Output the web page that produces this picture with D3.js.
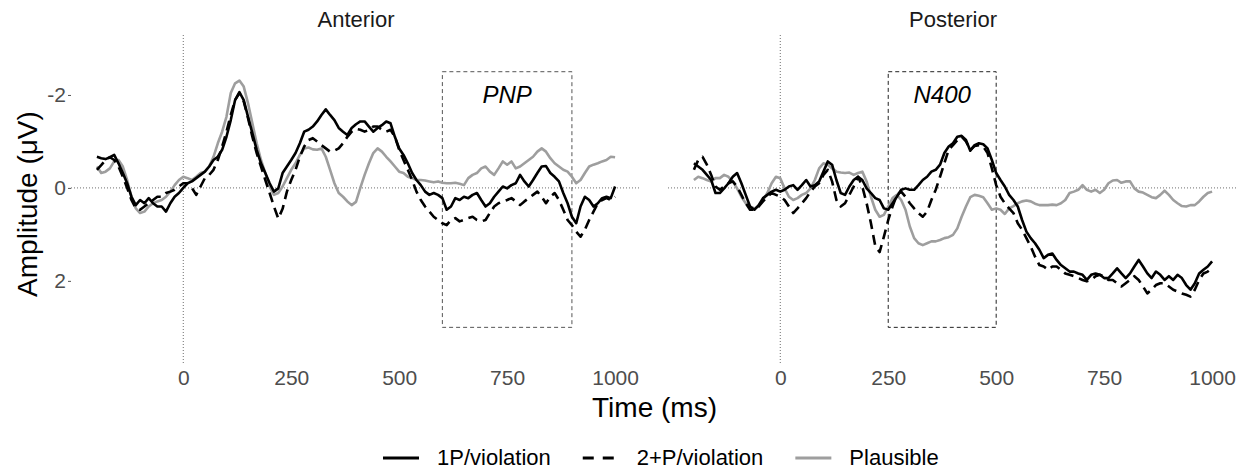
<!DOCTYPE html>
<html>
<head>
<meta charset="utf-8">
<script src="https://cdn.jsdelivr.net/npm/d3@7"></script>
<style>
  body { margin: 0; background: #fff; }
  text { font-family: "Liberation Sans", Arial, sans-serif; }
</style>
</head>
<body>
<script>
var svgWidth = 1251;
var svgHeight = 471;

// time axis of the ERP, 10 ms steps
var times = d3.range(-200, 1001, 10);

var panels = ["Anterior", "Posterior"];
var conditions = ["1P/violation", "2+P/violation", "Plausible"];

// amplitudes in microvolts (negative is drawn up)
var anterior1P = [
  -0.67, -0.64, -0.62, -0.66, -0.71, -0.53, -0.32, -0.10, 0.19, 0.37,
  0.26, 0.33, 0.22, 0.33, 0.40, 0.40, 0.51, 0.33, 0.19, 0.11,
  0.00, -0.10, -0.14, -0.21, -0.28, -0.35, -0.46, -0.60, -0.67, -0.82,
  -1.10, -1.46, -1.89, -2.06, -1.89, -1.53, -1.18, -0.82, -0.53, -0.32,
  -0.10, 0.08, 0.01, -0.32, -0.46, -0.60, -0.75, -0.96, -1.21, -1.25,
  -1.32, -1.43, -1.57, -1.69, -1.57, -1.46, -1.29, -1.21, -1.14, -1.29,
  -1.37, -1.43, -1.43, -1.32, -1.21, -1.29, -1.35, -1.43, -1.39, -1.10,
  -0.85, -0.71, -0.53, -0.32, -0.17, -0.06, 0.08, 0.15, 0.11, 0.15,
  0.22, 0.47, 0.40, 0.22, 0.26, 0.19, 0.22, 0.15, 0.11, 0.26,
  0.40, 0.33, 0.19, 0.08, -0.03, 0.01, -0.06, -0.10, -0.28, -0.14,
  -0.03, -0.17, -0.32, -0.46, -0.47, -0.32, -0.24, -0.14, 0.11, 0.33,
  0.62, 0.76, 0.40, 0.19, 0.26, 0.40, 0.33, 0.22, 0.19, 0.22,
  -0.03
];
var anterior2P = [
  -0.39, -0.49, -0.60, -0.66, -0.60, -0.46, -0.24, 0.00, 0.26, 0.44,
  0.47, 0.40, 0.33, 0.26, 0.19, 0.19, 0.11, 0.08, 0.04, -0.03,
  -0.10, -0.10, 0.00, 0.15, -0.03, -0.21, -0.28, -0.39, -0.60, -0.89,
  -1.21, -1.57, -1.89, -2.04, -1.86, -1.50, -1.10, -0.75, -0.46, -0.17,
  0.11, 0.40, 0.66, 0.45, 0.08, -0.17, -0.39, -0.67, -0.89, -1.03,
  -1.07, -1.00, -0.92, -0.85, -0.78, -0.80, -0.85, -0.96, -1.10, -1.21,
  -1.27, -1.25, -1.21, -1.25, -1.32, -1.32, -1.25, -1.21, -1.25, -1.10,
  -0.82, -0.60, -0.39, -0.17, 0.08, 0.26, 0.40, 0.51, 0.62, 0.69,
  0.76, 0.80, 0.69, 0.65, 0.72, 0.69, 0.65, 0.62, 0.69, 0.72,
  0.69, 0.54, 0.40, 0.33, 0.29, 0.26, 0.22, 0.29, 0.37, 0.29,
  0.22, 0.15, 0.08, 0.19, 0.33, 0.19, 0.11, 0.26, 0.47, 0.69,
  0.80, 0.94, 1.05, 0.90, 0.69, 0.51, 0.33, 0.26, 0.22, 0.26,
  0.19
];
var anteriorPlaus = [
  -0.46, -0.32, -0.35, -0.42, -0.57, -0.60, -0.46, -0.17, 0.19, 0.44,
  0.54, 0.51, 0.40, 0.33, 0.29, 0.26, 0.19, 0.08, -0.06, -0.17,
  -0.24, -0.21, -0.17, -0.24, -0.32, -0.35, -0.46, -0.67, -0.96, -1.21,
  -1.53, -2.04, -2.25, -2.31, -2.18, -1.82, -1.39, -0.96, -0.60, -0.32,
  -0.03, 0.15, 0.11, -0.03, -0.21, -0.39, -0.53, -0.71, -0.85, -0.87,
  -0.83, -0.82, -0.85, -0.67, -0.39, -0.10, 0.11, 0.19, 0.29, 0.37,
  0.30, 0.00, -0.28, -0.53, -0.75, -0.85, -0.78, -0.67, -0.57, -0.46,
  -0.35, -0.32, -0.24, -0.21, -0.17, -0.17, -0.16, -0.14, -0.12, -0.14,
  -0.11, -0.10, -0.10, -0.11, -0.09, -0.06, -0.21, -0.28, -0.32, -0.42,
  -0.46, -0.35, -0.28, -0.42, -0.57, -0.50, -0.57, -0.42, -0.46, -0.53,
  -0.60, -0.67, -0.78, -0.85, -0.78, -0.64, -0.53, -0.46, -0.39, -0.35,
  -0.24, -0.10, -0.17, -0.32, -0.46, -0.50, -0.53, -0.57, -0.60, -0.67,
  -0.66
];
var posterior1P = [
  -0.53, -0.46, -0.39, -0.28, -0.17, 0.11, 0.11, 0.01, -0.10, -0.24,
  -0.32, -0.10, 0.15, 0.40, 0.47, 0.37, 0.22, 0.15, 0.08, 0.04,
  0.08, 0.04, -0.03, -0.06, 0.04, -0.06, -0.17, -0.03, -0.06, -0.14,
  -0.35, -0.57, -0.50, -0.17, 0.11, 0.15, -0.03, -0.17, -0.24, -0.17,
  0.01, 0.11, 0.22, 0.26, 0.44, 0.47, 0.33, 0.19, 0.04, 0.01,
  0.04, 0.04, -0.06, -0.17, -0.24, -0.35, -0.39, -0.50, -0.75, -0.89,
  -0.96, -1.10, -1.12, -1.03, -0.80, -0.92, -0.96, -0.94, -0.85, -0.60,
  -0.32, -0.17, -0.03, 0.15, 0.26, 0.40, 0.69, 0.94, 1.08, 1.19,
  1.33, 1.51, 1.44, 1.41, 1.55, 1.66, 1.73, 1.80, 1.80, 1.84,
  1.87, 1.98, 1.87, 1.84, 1.87, 1.94, 1.94, 1.84, 1.73, 1.84,
  1.94, 1.84, 1.69, 1.55, 1.69, 1.84, 1.94, 1.80, 1.87, 1.98,
  1.90, 1.98, 1.87, 1.94, 2.09, 2.19, 2.05, 1.84, 1.76, 1.69,
  1.58
];
var posterior2P = [
  -0.39, -0.60, -0.67, -0.50, -0.28, -0.03, 0.04, -0.03, -0.10, -0.14,
  -0.03, 0.15, 0.33, 0.47, 0.47, 0.40, 0.29, 0.19, 0.11, 0.15,
  0.19, 0.26, 0.40, 0.54, 0.44, 0.33, 0.22, 0.08, -0.03, -0.10,
  -0.28, -0.39, -0.14, 0.26, 0.40, 0.33, 0.15, -0.03, -0.24, -0.03,
  0.33, 0.76, 1.25, 1.38, 1.05, 0.69, 0.40, 0.15, 0.08, 0.19,
  0.33, 0.44, 0.54, 0.62, 0.51, 0.26, 0.04, -0.24, -0.53, -0.82,
  -0.92, -1.03, -1.10, -1.00, -0.82, -0.90, -0.92, -0.89, -0.75, -0.42,
  -0.06, 0.19, 0.33, 0.44, 0.54, 0.76, 0.90, 1.08, 1.26, 1.48,
  1.66, 1.69, 1.76, 1.69, 1.69, 1.76, 1.84, 1.87, 1.90, 1.94,
  1.98, 2.01, 1.98, 1.90, 1.87, 1.90, 1.98, 1.98, 2.05, 2.12,
  2.05, 1.98, 1.90, 1.98, 2.12, 2.27, 2.19, 2.09, 2.05, 2.05,
  2.12, 2.19, 2.23, 2.27, 2.30, 2.34, 2.19, 1.98, 1.84, 1.80,
  1.73
];
var posteriorPlaus = [
  -0.17, -0.24, -0.21, -0.17, -0.14, -0.21, -0.21, -0.28, -0.24, -0.14,
  0.01, 0.19, 0.33, 0.40, 0.44, 0.40, 0.26, 0.11, -0.10, -0.24,
  -0.21, 0.01, 0.19, 0.26, 0.22, 0.15, 0.11, 0.01, -0.17, -0.42,
  -0.53, -0.50, -0.42, -0.35, -0.33, -0.32, -0.33, -0.28, -0.32, -0.35,
  -0.14, 0.19, 0.47, 0.62, 0.58, 0.40, 0.22, 0.15, 0.26, 0.47,
  0.83, 1.08, 1.19, 1.23, 1.19, 1.15, 1.15, 1.12, 1.08, 1.06,
  1.01, 0.87, 0.62, 0.40, 0.20, 0.15, 0.17, 0.20, 0.33, 0.47,
  0.44, 0.47, 0.56, 0.44, 0.39, 0.33, 0.29, 0.27, 0.29, 0.34,
  0.37, 0.37, 0.37, 0.36, 0.37, 0.33, 0.26, 0.11, 0.08, 0.04,
  -0.06, 0.04, 0.08, 0.04, 0.11, 0.04, -0.10, -0.16, -0.17, -0.11,
  -0.14, -0.14, 0.01, 0.08, 0.10, 0.15, 0.20, 0.22, 0.15, 0.06,
  0.15, 0.26, 0.33, 0.39, 0.40, 0.37, 0.37, 0.29, 0.19, 0.11,
  0.08
];

// analysis windows drawn as dashed boxes
var windowLabels = ["PNP", "N400"];
var windowStart = [600, 250];
var windowEnd = [900, 500];
var windowLow = -2.5;
var windowHigh = 3;

var xTicks = [0, 250, 500, 750, 1000];
var yTicks = [-2, 0, 2];

var seriesByPanel = [
  [anterior1P, anterior2P, anteriorPlaus],
  [posterior1P, posterior2P, posteriorPlaus]
];

var lineColor = ["#000000", "#000000", "#9e9e9e"];
var lineDash = [null, "10,6", null];

// layout
var panelLeft = [71, 668];
var panelWidth = 570;
var panelTop = 35;
var panelHeight = 330;

var svg = d3.select("body").append("svg")
  .attr("width", svgWidth)
  .attr("height", svgHeight);

var yScale = d3.scaleLinear()
  .domain([-3.29, 3.81])
  .range([panelTop, panelTop + panelHeight]);

// plain labels: hyphen minus, no thousands separator
var plain = function (d) { return String(d); };

panels.forEach(function (name, p) {
  var xScale = d3.scaleLinear()
    .domain([-260, 1060])
    .range([panelLeft[p], panelLeft[p] + panelWidth]);

  var g = svg.append("g");

  // zero reference lines (dotted)
  g.append("line")
    .attr("x1", panelLeft[p]).attr("x2", panelLeft[p] + panelWidth)
    .attr("y1", yScale(0)).attr("y2", yScale(0))
    .attr("stroke", "#6e6e6e").attr("stroke-width", 1)
    .attr("stroke-dasharray", "1,2");
  g.append("line")
    .attr("x1", xScale(0)).attr("x2", xScale(0))
    .attr("y1", panelTop).attr("y2", panelTop + panelHeight)
    .attr("stroke", "#6e6e6e").attr("stroke-width", 1)
    .attr("stroke-dasharray", "1,2");

  // window box
  g.append("rect")
    .attr("x", xScale(windowStart[p]))
    .attr("y", yScale(windowLow))
    .attr("width", xScale(windowEnd[p]) - xScale(windowStart[p]))
    .attr("height", yScale(windowHigh) - yScale(windowLow))
    .attr("fill", "none")
    .attr("stroke", p === 0 ? "#555" : "#222")
    .attr("stroke-width", 1)
    .attr("stroke-dasharray", "4,3");

  g.append("text")
    .attr("x", (xScale(windowStart[p]) + xScale(windowEnd[p])) / 2)
    .attr("y", yScale(-2))
    .attr("dy", "0.35em")
    .attr("text-anchor", "middle")
    .attr("font-style", "italic")
    .attr("font-size", 24)
    .attr("fill", "#000")
    .text(windowLabels[p]);

  // ERP lines, plausible drawn first so the violations sit on top
  var line = d3.line()
    .x(function (d, i) { return xScale(times[i]); })
    .y(function (d) { return yScale(d); });

  [2, 0, 1].forEach(function (c) {
    g.append("path")
      .datum(seriesByPanel[p][c])
      .attr("d", line)
      .attr("fill", "none")
      .attr("stroke", lineColor[c])
      .attr("stroke-width", 2.6)
      .attr("stroke-linejoin", "round")
      .attr("stroke-dasharray", lineDash[c]);
  });

  // facet title
  svg.append("text")
    .attr("x", panelLeft[p] + panelWidth / 2)
    .attr("y", 19)
    .attr("dy", "0.35em")
    .attr("text-anchor", "middle")
    .attr("font-size", 22)
    .attr("fill", "#1a1a1a")
    .text(name);

  // x axis
  var xAxis = svg.append("g")
    .attr("transform", "translate(0," + (panelTop + panelHeight) + ")")
    .call(d3.axisBottom(xScale).tickValues(xTicks).tickSize(0).tickPadding(5)
      .tickFormat(plain));
  xAxis.select(".domain").remove();
  xAxis.selectAll("text")
    .attr("font-size", 21)
    .attr("fill", "#4d4d4d")
    .style("font-family", "'Liberation Sans', Arial, sans-serif");

  // y axis only on the first panel
  if (p === 0) {
    var yAxis = svg.append("g")
      .attr("transform", "translate(" + panelLeft[p] + ",0)")
      .call(d3.axisLeft(yScale).tickValues(yTicks).tickSize(3).tickPadding(2)
        .tickFormat(plain));
    yAxis.select(".domain").remove();
    yAxis.selectAll(".tick line").attr("stroke", "#555");
    yAxis.selectAll("text")
      .attr("font-size", 21)
      .attr("fill", "#4d4d4d")
      .style("font-family", "'Liberation Sans', Arial, sans-serif");
  }
});

// axis titles
svg.append("text")
  .attr("x", (panelLeft[0] + panelLeft[1] + panelWidth) / 2)
  .attr("y", 407)
  .attr("dy", "0.35em")
  .attr("text-anchor", "middle")
  .attr("font-size", 28)
  .attr("fill", "#000")
  .text("Time (ms)");

svg.append("text")
  .attr("transform", "translate(27," + (panelTop + panelHeight / 2 + 4) + ") rotate(-90)")
  .attr("dy", "0.35em")
  .attr("text-anchor", "middle")
  .attr("font-size", 28)
  .attr("fill", "#000")
  .text("Amplitude (\u03bcV)");

// legend
var legendY = 457;
var legend = svg.append("g");
var lx = 383;
conditions.forEach(function (name, c) {
  legend.append("line")
    .attr("x1", lx).attr("x2", lx + 36)
    .attr("y1", legendY + 1).attr("y2", legendY + 1)
    .attr("stroke", lineColor[c])
    .attr("stroke-width", 3)
    .attr("stroke-dasharray", lineDash[c] ? "11,9" : null);
  var t = legend.append("text")
    .attr("x", lx + 54)
    .attr("y", legendY)
    .attr("dy", "0.35em")
    .attr("font-size", 22)
    .attr("fill", "#000")
    .text(name);
  lx = lx + 54 + t.node().getComputedTextLength() + 32;
});
</script>
</body>
</html>
